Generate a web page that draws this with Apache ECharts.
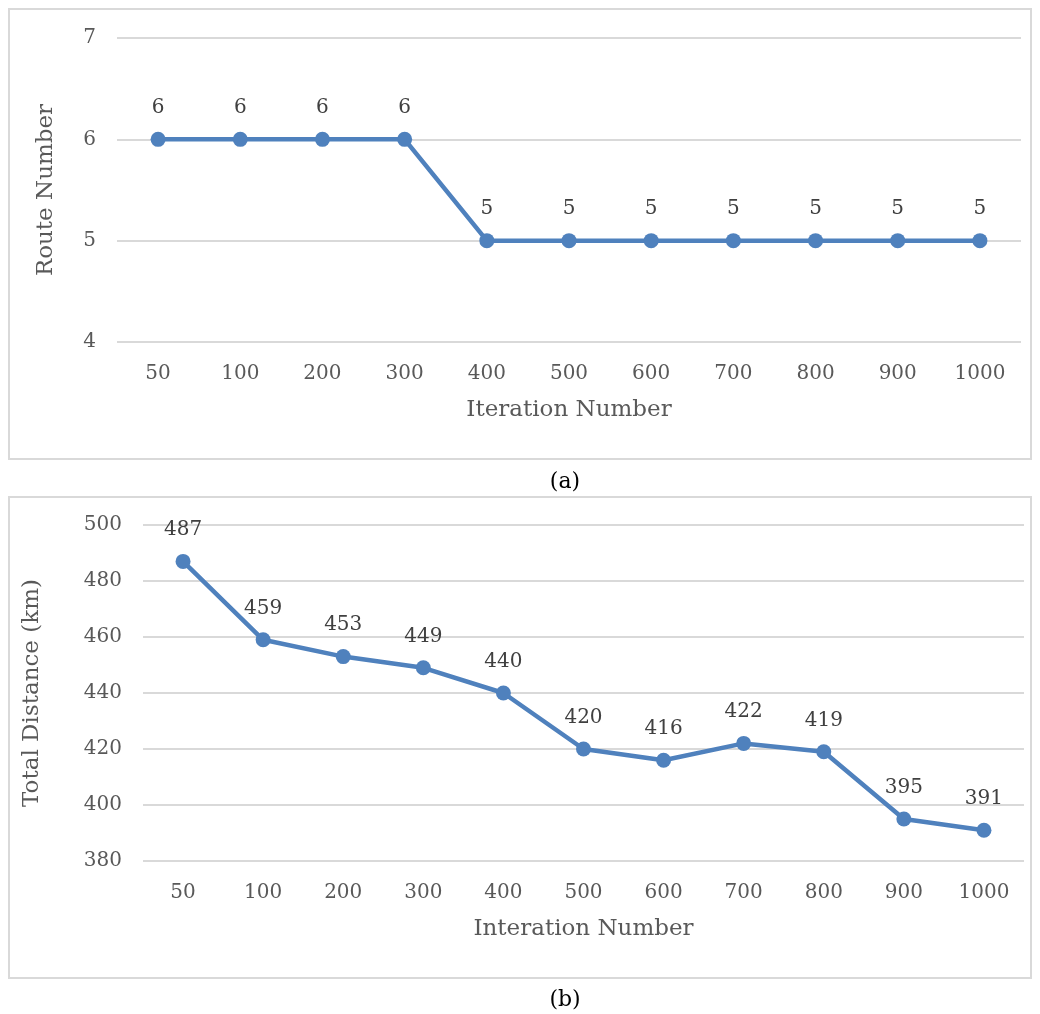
<!DOCTYPE html>
<html>
<head>
<meta charset="utf-8">
<script src="https://cdn.jsdelivr.net/npm/echarts@6/dist/echarts.min.js"></script>
<style>
html,body{margin:0;padding:0;background:#fff;}
#chart{width:1040px;height:1014px;}
</style>
</head>
<body>
<div id="chart"></div>
<script>
const iterations = ['50', '100', '200', '300', '400', '500', '600', '700', '800', '900', '1000']
const routeNumber = [6, 6, 6, 6, 5, 5, 5, 5, 5, 5, 5]
const totalDistance = [487, 459, 453, 449, 440, 420, 416, 422, 419, 395, 391]

const FONT = 'DejaVu Serif'
const lineColor = '#4f81bd'
const gridColor = '#d9d9d9'

const chart = echarts.init(document.getElementById('chart'))

function xAxisOf(gridIndex, name){
    return {
        type:'category',
        gridIndex:gridIndex,
        data:iterations,
        boundaryGap:true,
        name:name,
        nameLocation:'middle',
        nameGap:57,
        nameTextStyle:{fontFamily:FONT, fontSize:23, color:'#595959'},
        axisLine:{show:false},
        axisTick:{show:false},
        axisLabel:{fontFamily:FONT, fontSize:20, color:'#595959', margin:22}
    }
}

function yAxisOf(gridIndex, name, min, max, interval, gap){
    return {
        type:'value',
        gridIndex:gridIndex,
        min:min, max:max, interval:interval,
        name:name,
        nameLocation:'middle',
        nameGap:gap,
        nameTextStyle:{fontFamily:FONT, fontSize:23, color:'#595959'},
        axisLine:{show:false},
        axisTick:{show:false},
        axisLabel:{fontFamily:FONT, fontSize:20, color:'#595959', margin:21},
        splitLine:{lineStyle:{color:gridColor, width:2}}
    }
}

function seriesOf(idx, data){
    return {
        type:'line',
        xAxisIndex:idx,
        yAxisIndex:idx,
        data:data,
        symbol:'circle',
        symbolSize:15,
        lineStyle:{color:lineColor, width:4.5},
        itemStyle:{color:lineColor},
        label:{
            show:true,
            position:'top',
            distance:14,
            fontFamily:FONT,
            fontSize:20,
            color:'#404040'
        },
        animation:false
    }
}

const option = {
    backgroundColor:'#fff',
    grid:[
        {left:117, top:38, width:904, height:304},
        {left:143, top:525, width:881, height:336}
    ],
    xAxis:[xAxisOf(0, 'Iteration Number'), xAxisOf(1, 'Interation Number')],
    yAxis:[
        yAxisOf(0, 'Route Number', 4, 7, 1, 59),
        yAxisOf(1, 'Total Distance (km)', 380, 500, 20, 99)
    ],
    series:[seriesOf(0, routeNumber), seriesOf(1, totalDistance)],
    graphic:[
        // panel frames
        {type:'rect', shape:{x:9, y:9, width:1022, height:450}, style:{fill:null, stroke:gridColor, lineWidth:2}, silent:true},
        {type:'rect', shape:{x:9, y:497, width:1022, height:481}, style:{fill:null, stroke:gridColor, lineWidth:2}, silent:true},
        // captions
        {type:'text', x:565, y:482, style:{text:'(a)', fontFamily:FONT, fontSize:22, fill:'#000', align:'center', verticalAlign:'middle'}},
        {type:'text', x:565, y:1000, style:{text:'(b)', fontFamily:FONT, fontSize:22, fill:'#000', align:'center', verticalAlign:'middle'}}
    ]
}

chart.setOption(option)
</script>
</body>
</html>
